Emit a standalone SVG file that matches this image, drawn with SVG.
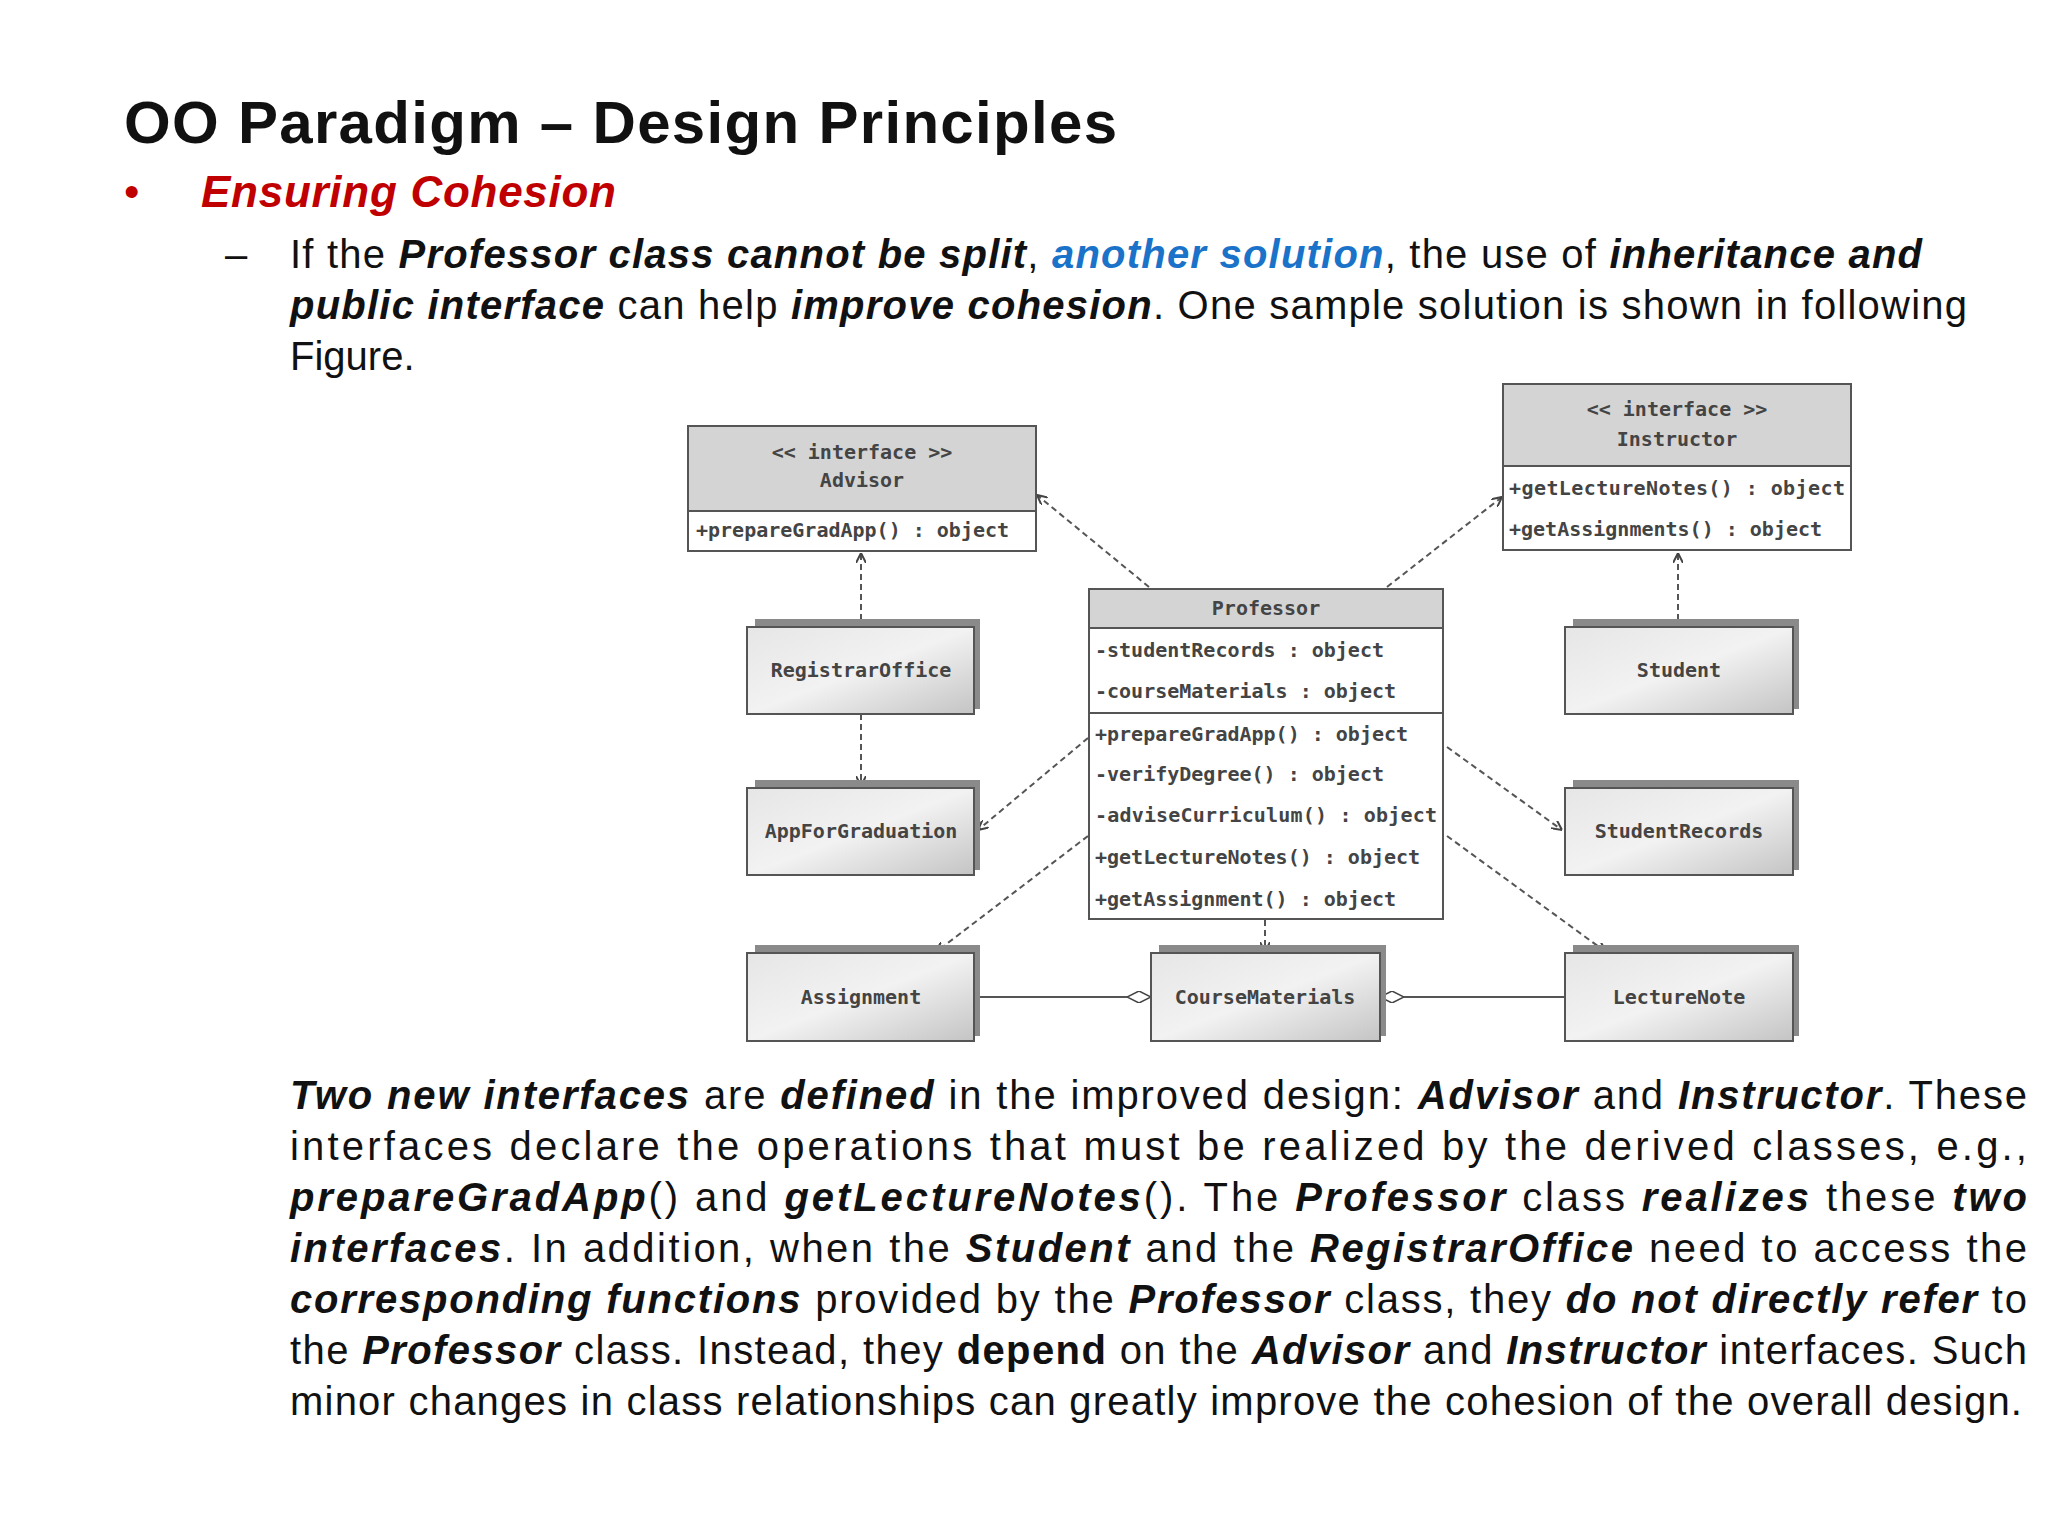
<svg xmlns="http://www.w3.org/2000/svg" width="2048" height="1536" viewBox="0 0 2048 1536">
<defs>
<linearGradient id="g" x1="0" y1="0" x2="1" y2="1"><stop offset="0" stop-color="#e6e6e6"/><stop offset="0.5" stop-color="#f2f2f2"/><stop offset="1" stop-color="#c4c4c4"/></linearGradient>
<marker id="a" viewBox="0 0 10 10" refX="10" refY="5" markerWidth="10" markerHeight="10" markerUnits="userSpaceOnUse" orient="auto"><path d="M0,0 L10,5 L0,10" fill="none" stroke="#444" stroke-width="2"/></marker>
<marker id="d" viewBox="0 0 24 12" refX="24" refY="6" markerWidth="24" markerHeight="12" markerUnits="userSpaceOnUse" orient="auto"><path d="M0,6 L12,0 L24,6 L12,12 Z" fill="#fff" stroke="#444" stroke-width="1.5"/></marker>
</defs>
<style>
.h{font-family:"Liberation Sans",Arial,sans-serif;fill:#111}
.m{font-family:"DejaVu Sans Mono","Liberation Mono",monospace;font-size:20px;font-weight:bold;fill:#444}
.c{text-anchor:middle}
.box{fill:url(#g);stroke:#555;stroke-width:2}
.sh{fill:#8a8a8a}
.ifh{fill:#d4d4d4;stroke:#555;stroke-width:2}
.ifb{fill:#fff;stroke:#555;stroke-width:2}
.dl{stroke:#555;stroke-width:2;stroke-dasharray:6,4;fill:none;marker-end:url(#a)}
.sl{stroke:#555;stroke-width:2;fill:none;marker-end:url(#d)}
</style>
<rect width="2048" height="1536" fill="#fff"/>
<text class="h" x="124" y="143" font-size="60" font-weight="bold" textLength="993">OO Paradigm – Design Principles</text>
<text class="h" x="124" y="207" font-size="44" style="fill:#c00000">•</text>
<text class="h" x="201" y="207" font-size="44" font-weight="bold" font-style="italic" style="fill:#c00000" textLength="415">Ensuring Cohesion</text>
<text class="h" x="225" y="268" font-size="40">–</text>
<g class="h" font-size="40">
<text x="290" y="268" textLength="1632">If the <tspan font-weight="bold" font-style="italic">Professor class cannot be split</tspan>, <tspan font-weight="bold" font-style="italic" style="fill:#1a73c8">another solution</tspan>, the use of <tspan font-weight="bold" font-style="italic">inheritance and</tspan></text>
<text x="290" y="319" textLength="1677"><tspan font-weight="bold" font-style="italic">public interface</tspan> can help <tspan font-weight="bold" font-style="italic">improve cohesion</tspan>. One sample solution is shown in following</text>
<text x="290" y="370">Figure.</text>
<text x="290" y="1109" textLength="1737"><tspan font-weight="bold" font-style="italic">Two new interfaces</tspan> are <tspan font-weight="bold" font-style="italic">defined</tspan> in the improved design: <tspan font-weight="bold" font-style="italic">Advisor</tspan> and <tspan font-weight="bold" font-style="italic">Instructor</tspan>. These</text>
<text x="290" y="1160" textLength="1737">interfaces declare the operations that must be realized by the derived classes, e.g.,</text>
<text x="290" y="1211" textLength="1737"><tspan font-weight="bold" font-style="italic">prepareGradApp</tspan>() and <tspan font-weight="bold" font-style="italic">getLectureNotes</tspan>(). The <tspan font-weight="bold" font-style="italic">Professor</tspan> class <tspan font-weight="bold" font-style="italic">realizes</tspan> these <tspan font-weight="bold" font-style="italic">two</tspan></text>
<text x="290" y="1262" textLength="1737"><tspan font-weight="bold" font-style="italic">interfaces</tspan>. In addition, when the <tspan font-weight="bold" font-style="italic">Student</tspan> and the <tspan font-weight="bold" font-style="italic">RegistrarOffice</tspan> need to access the</text>
<text x="290" y="1313" textLength="1737"><tspan font-weight="bold" font-style="italic">corresponding functions</tspan> provided by the <tspan font-weight="bold" font-style="italic">Professor</tspan> class, they <tspan font-weight="bold" font-style="italic">do not directly refer</tspan> to</text>
<text x="290" y="1364" textLength="1737">the <tspan font-weight="bold" font-style="italic">Professor</tspan> class. Instead, they <tspan font-weight="bold">depend</tspan> on the <tspan font-weight="bold" font-style="italic">Advisor</tspan> and <tspan font-weight="bold" font-style="italic">Instructor</tspan> interfaces. Such</text>
<text x="290" y="1415" textLength="1732">minor changes in class relationships can greatly improve the cohesion of the overall design.</text>
</g>

<g id="connectors">
<line class="dl" x1="1149" y1="587" x2="1037" y2="495"/>
<line class="dl" x1="1387" y1="587" x2="1502" y2="497"/>
<line class="dl" x1="861" y1="620" x2="861" y2="553"/>
<line class="dl" x1="861" y1="714" x2="861" y2="786"/>
<line class="dl" x1="1088" y1="738" x2="978" y2="830"/>
<line class="dl" x1="1088" y1="836" x2="936" y2="952"/>
<line class="dl" x1="1265" y1="920" x2="1265" y2="952"/>
<line class="dl" x1="1447" y1="747" x2="1562" y2="830"/>
<line class="dl" x1="1447" y1="836" x2="1606" y2="952"/>
<line class="dl" x1="1678" y1="620" x2="1678" y2="553"/>
<line class="sl" x1="975" y1="997" x2="1151" y2="997"/>
<line class="sl" x1="1565" y1="997" x2="1380" y2="997"/>
</g>

<g id="advisor">
<rect class="ifh" x="688" y="426" width="348" height="85"/>
<rect class="ifb" x="688" y="511" width="348" height="40"/>
<text class="m c" x="862" y="459">&lt;&lt; interface &gt;&gt;</text>
<text class="m c" x="862" y="487">Advisor</text>
<text class="m" x="696" y="537">+prepareGradApp() : object</text>
</g>
<g id="instructor">
<rect class="ifh" x="1503" y="384" width="348" height="82"/>
<rect class="ifb" x="1503" y="466" width="348" height="84"/>
<text class="m c" x="1677" y="416">&lt;&lt; interface &gt;&gt;</text>
<text class="m c" x="1677" y="446">Instructor</text>
<text class="m" x="1509" y="495" textLength="336">+getLectureNotes() : object</text>
<text class="m" x="1509" y="536">+getAssignments() : object</text>
</g>
<g id="professor">
<rect class="ifh" x="1089" y="589" width="354" height="39"/>
<rect class="ifb" x="1089" y="628" width="354" height="85"/>
<rect class="ifb" x="1089" y="713" width="354" height="206"/>
<text class="m c" x="1266" y="615">Professor</text>
<text class="m" x="1095" y="657">-studentRecords : object</text>
<text class="m" x="1095" y="698">-courseMaterials : object</text>
<text class="m" x="1095" y="741">+prepareGradApp() : object</text>
<text class="m" x="1095" y="781">-verifyDegree() : object</text>
<text class="m" x="1095" y="822" textLength="342">-adviseCurriculum() : object</text>
<text class="m" x="1095" y="864">+getLectureNotes() : object</text>
<text class="m" x="1095" y="906">+getAssignment() : object</text>
</g>
<g id="registraroffice"><rect class="sh" x="755" y="619" width="225" height="90"/><rect class="box" x="747" y="627" width="227" height="87"/><text class="m c" x="861" y="677">RegistrarOffice</text></g>
<g id="appforgraduation"><rect class="sh" x="755" y="780" width="225" height="90"/><rect class="box" x="747" y="788" width="227" height="87"/><text class="m c" x="861" y="838">AppForGraduation</text></g>
<g id="assignment"><rect class="sh" x="755" y="945" width="225" height="91"/><rect class="box" x="747" y="953" width="227" height="88"/><text class="m c" x="861" y="1004">Assignment</text></g>
<g id="coursematerials"><rect class="sh" x="1159" y="945" width="227" height="91"/><rect class="box" x="1151" y="953" width="229" height="88"/><text class="m c" x="1265" y="1004">CourseMaterials</text></g>
<g id="lecturenote"><rect class="sh" x="1573" y="945" width="226" height="91"/><rect class="box" x="1565" y="953" width="228" height="88"/><text class="m c" x="1679" y="1004">LectureNote</text></g>
<g id="student"><rect class="sh" x="1573" y="619" width="226" height="90"/><rect class="box" x="1565" y="627" width="228" height="87"/><text class="m c" x="1679" y="677">Student</text></g>
<g id="studentrecords"><rect class="sh" x="1573" y="780" width="226" height="90"/><rect class="box" x="1565" y="788" width="228" height="87"/><text class="m c" x="1679" y="838">StudentRecords</text></g>
</svg>
